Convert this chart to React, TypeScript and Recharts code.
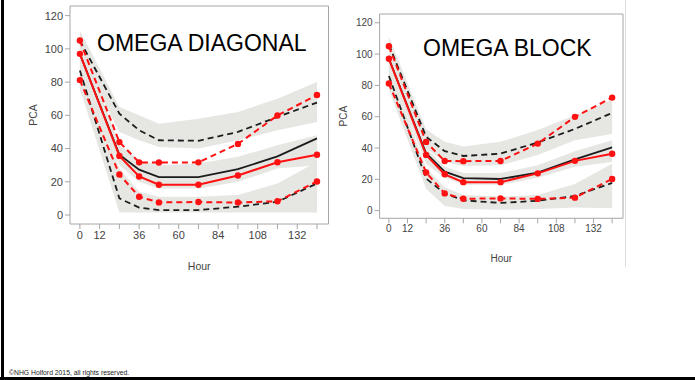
import { ComposedChart, Area, Line, XAxis, YAxis, ReferenceArea, Label } from 'recharts';

// sampling times (hours)
const HOURS = [0, 24, 36, 48, 72, 96, 120, 144];

// observed percentiles (same data in both panels)
const OBS_P05 = [81.2, 24.4, 11, 7.6, 7.8, 7.5, 8.3, 20.2];
const OBS_P50 = [97, 35.6, 23.2, 18.2, 18.2, 23.8, 31.8, 36.3];
const OBS_P95 = [105, 43.9, 31.7, 31.6, 31.7, 42.8, 59.9, 72.2];

// OMEGA DIAGONAL - predicted percentiles
const DIAG_P05 = [87, 10, 4.5, 3, 3, 5, 8, 19];
const DIAG_P50 = [97, 36.3, 27.3, 22.8, 22.8, 27.6, 35.3, 46.1];
const DIAG_P95 = [105, 61, 51, 45, 44.7, 50, 59, 67.7];
// OMEGA DIAGONAL - confidence bands of predicted percentiles
const DIAG_LO_BAND_MIN = [76, 1.5, 1.5, 1.5, 1.5, 1.5, 1.5, 1.5];
const DIAG_LO_BAND_MAX = [96, 28, 14, 11, 11, 12, 19, 32];
const DIAG_MID_BAND_MIN = [88, 30, 20, 16, 16, 20, 28, 30];
const DIAG_MID_BAND_MAX = [106, 42, 33, 30, 31, 35, 42, 48];
const DIAG_HI_BAND_MIN = [96, 50, 45, 41, 40, 45, 51, 56];
const DIAG_HI_BAND_MAX = [111, 65, 60, 55, 58, 62, 70, 80];

// OMEGA BLOCK - predicted percentiles
const BLOCK_P05 = [86, 20.5, 11, 6.6, 4.9, 6.3, 9.4, 17.7];
const BLOCK_P50 = [97, 36.6, 24.9, 20.7, 20.2, 24.3, 32.8, 40.4];
const BLOCK_P95 = [106, 47.2, 38, 34.9, 36.4, 43.5, 52.2, 62.4];
// OMEGA BLOCK - confidence bands
const BLOCK_LO_BAND_MIN = [77, 14, 3, 1, 0.5, 1, 2, 1.5];
const BLOCK_LO_BAND_MAX = [92, 27, 15, 10, 9, 10, 17, 30];
const BLOCK_MID_BAND_MIN = [90, 30, 21, 16.5, 16.5, 21, 28, 31];
const BLOCK_MID_BAND_MAX = [104, 40, 28, 24, 24, 29, 38, 45];
const BLOCK_HI_BAND_MIN = [98, 40, 31, 28.5, 29, 35.5, 45, 49];
const BLOCK_HI_BAND_MAX = [111, 52, 44, 41, 44, 51.5, 61, 71];

const X_TICKS = [0, 12, 24, 36, 48, 60, 72, 84, 96, 108, 120, 132, 144];
const X_TICK_LABELS = ['0', '12', '', '36', '', '60', '', '84', '', '108', '', '132', ''];
const Y_TICKS = [0, 20, 40, 60, 80, 100, 120];

const RED = '#ff1111';
const BLACK = '#1c1c1c';
const BAND = '#e6e6e3';
const AXIS = '#a6a6a6';
const TEXT = '#444';
const FONT = '"Liberation Sans", Arial, sans-serif';

function buildRows(p05, p50, p95, loMin, loMax, midMin, midMax, hiMin, hiMax) {
  return HOURS.map((h, i) => ({
    hour: h,
    loBand: [loMin[i], loMax[i]],
    midBand: [midMin[i], midMax[i]],
    hiBand: [hiMin[i], hiMax[i]],
    p05: p05[i],
    p50: p50[i],
    p95: p95[i],
    o05: OBS_P05[i],
    o50: OBS_P50[i],
    o95: OBS_P95[i],
  }));
}

const diagRows = buildRows(DIAG_P05, DIAG_P50, DIAG_P95, DIAG_LO_BAND_MIN, DIAG_LO_BAND_MAX,
  DIAG_MID_BAND_MIN, DIAG_MID_BAND_MAX, DIAG_HI_BAND_MIN, DIAG_HI_BAND_MAX);
const blockRows = buildRows(BLOCK_P05, BLOCK_P50, BLOCK_P95, BLOCK_LO_BAND_MIN, BLOCK_LO_BAND_MAX,
  BLOCK_MID_BAND_MIN, BLOCK_MID_BAND_MAX, BLOCK_HI_BAND_MIN, BLOCK_HI_BAND_MAX);

const X_DOMAIN = [-6, 151];

function Panel({ rows, left, width, height, margin, yWidth, yDomain, tickFont, labelFont, hourOffset }) {
  const dot = { r: 3.2, fill: RED, stroke: 'none', strokeWidth: 0 };
  return (
    <div style={{ position: 'absolute', left, top: 0 }}>
      <ComposedChart width={width} height={height} data={rows} margin={margin}>
        <XAxis
          type="number"
          dataKey="hour"
          domain={X_DOMAIN}
          allowDataOverflow
          ticks={X_TICKS}
          interval={0}
          tickFormatter={(v) => X_TICK_LABELS[X_TICKS.indexOf(v)] ?? ''}
          height={30}
          axisLine={false}
          tickLine={{ stroke: AXIS }}
          tickSize={5}
          tick={{ fill: TEXT, fontSize: tickFont, fontFamily: FONT }}
        >
          <Label value="Hour" position="bottom" offset={hourOffset} fill={TEXT} fontSize={labelFont} fontFamily={FONT} />
        </XAxis>
        <YAxis
          type="number"
          domain={yDomain}
          allowDataOverflow
          ticks={Y_TICKS}
          interval={0}
          width={yWidth}
          axisLine={false}
          tickLine={{ stroke: AXIS }}
          tickSize={5}
          tick={{ fill: TEXT, fontSize: tickFont, fontFamily: FONT }}
        >
          <Label value="PCA" position="center" angle={-90} fill={TEXT} fontSize={labelFont} fontFamily={FONT} />
        </YAxis>
        <ReferenceArea x1={X_DOMAIN[0]} x2={X_DOMAIN[1]} y1={yDomain[0]} y2={yDomain[1]} fill="none" stroke={AXIS} strokeWidth={1} />
        <Area type="linear" dataKey="hiBand" fill={BAND} fillOpacity={1} stroke="none" isAnimationActive={false} />
        <Area type="linear" dataKey="midBand" fill={BAND} fillOpacity={1} stroke="none" isAnimationActive={false} />
        <Area type="linear" dataKey="loBand" fill={BAND} fillOpacity={1} stroke="none" isAnimationActive={false} />
        <Line type="linear" dataKey="p95" stroke={BLACK} strokeWidth={1.8} strokeDasharray="6 4" dot={false} isAnimationActive={false} />
        <Line type="linear" dataKey="p05" stroke={BLACK} strokeWidth={1.8} strokeDasharray="6 4" dot={false} isAnimationActive={false} />
        <Line type="linear" dataKey="p50" stroke={BLACK} strokeWidth={1.8} dot={false} isAnimationActive={false} />
        <Line type="linear" dataKey="o95" stroke={RED} strokeWidth={2} strokeDasharray="6 4" dot={dot} isAnimationActive={false} />
        <Line type="linear" dataKey="o05" stroke={RED} strokeWidth={2} strokeDasharray="6 4" dot={dot} isAnimationActive={false} />
        <Line type="linear" dataKey="o50" stroke={RED} strokeWidth={2} dot={dot} isAnimationActive={false} />
      </ComposedChart>
    </div>
  );
}

export default function App() {
  return (
    <div style={{ position: 'absolute', left: 0, top: 0, width: 695, height: 380, background: '#fff', overflow: 'hidden', fontFamily: FONT }}>
      {/* right picture edge */}
      <div style={{ position: 'absolute', left: 625, top: 0, width: 1, height: 267, background: '#dcdcdc' }} />

      <Panel
        rows={diagRows}
        left={-3.5}
        width={340}
        height={280}
        margin={{ top: 6, right: 8.5, bottom: 26, left: 0 }}
        yWidth={73}
        yDomain={[-5.4, 125.8]}
        tickFont={11}
        labelFont={10.5}
        hourOffset={9}
      />
      <Panel
        rows={blockRows}
        left={306.7}
        width={330}
        height={270}
        margin={{ top: 14, right: 14, bottom: 21.7, left: 0 }}
        yWidth={72.6}
        yDomain={[-4.9, 125.6]}
        tickFont={10}
        labelFont={10}
        hourOffset={7}
      />

      <div style={{ position: 'absolute', left: 97, top: 32.2, fontSize: 23, lineHeight: '23px', color: '#000', whiteSpace: 'nowrap' }}>
        OMEGA DIAGONAL
      </div>
      <div style={{ position: 'absolute', left: 423, top: 36.5, fontSize: 23, lineHeight: '23px', color: '#000', whiteSpace: 'nowrap' }}>
        OMEGA BLOCK
      </div>

      <div style={{ position: 'absolute', left: 9, top: 368.5, fontSize: 6.8, lineHeight: '7px', color: '#222', whiteSpace: 'nowrap' }}>
        ©NHG Holford 2015, all rights reserved.
      </div>

      {/* slide border */}
      <div style={{ position: 'absolute', left: 1, top: 0, width: 3, height: 380, background: '#000' }} />
      <div style={{ position: 'absolute', left: 0, top: 377, width: 695, height: 3, background: '#000' }} />
    </div>
  );
}
